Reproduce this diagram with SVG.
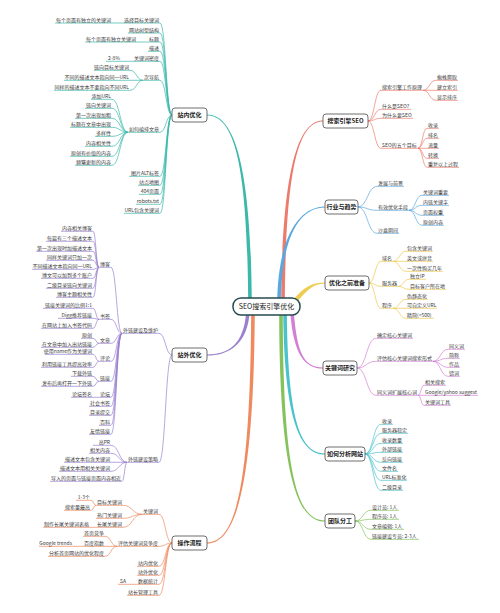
<svg xmlns="http://www.w3.org/2000/svg" width="500" height="613" viewBox="0 0 500 613">
<style>
text{font-family:"Noto Sans CJK SC","Liberation Sans",sans-serif}
.t{font-size:5px;fill:#3a3a3a}
.e{text-anchor:end}
.m{font-size:6px;font-weight:bold;fill:#222;text-anchor:middle}
.box{fill:#fff;stroke:#4a4a4a;stroke-width:0.8}
.k path{fill:none;stroke-width:0.7}
</style>
<rect width="500" height="613" fill="#fff"/>
<g id="connectors">
<g id="branches" stroke="none">
<path fill="#3bb8aa" d="M248.2,302 C247.2,170 236,115.6 207,115.6 L207,114.4 C236,114.4 250.8,170 251.8,302 Z"/>
<path fill="#9a80cf" d="M246.2,311 C244.2,345 228,354.4 207,354.4 L207,355.6 C228,355.6 247.8,345 249.8,311 Z"/>
<path fill="#ee8a5e" d="M251.2,311 C250.2,490 235,542.4 207,542.4 L207,543.6 C235,543.6 253.8,490 254.8,311 Z"/>
<path fill="#ec7b6d" d="M284.8,302 C285.8,170 298,121.6 323,121.6 L323,120.4 C298,120.4 282.2,170 281.2,302 Z"/>
<path fill="#5ba7df" d="M280.8,302 C281.8,235 300,207.6 325,207.6 L325,206.4 C300,206.4 278.2,235 277.2,302 Z"/>
<path fill="#efcd52" d="M297,302 C306,292 312,283.6 325,283.6 L325,282.4 C311,282.4 303,288 294,299 Z"/>
<path fill="#d27fd4" d="M293.8,311 C296.8,355 305,367.4 323,367.4 L323,368.6 C305,368.6 293.2,355 290.2,311 Z"/>
<path fill="#49c2cc" d="M286.8,311 C287.8,420 300,453.4 325,453.4 L325,454.6 C300,454.6 284.2,420 283.2,311 Z"/>
<path fill="#84c25c" d="M282.8,311 C282.8,485 300,520.4 325,520.4 L325,521.6 C300,521.6 279.2,485 279.2,311 Z"/>
</g>
<g class="k" stroke="#3bb8aa">
<path d="M55 23H123"/>
<path d="M123 23H160C166 23 166 115 172 115"/>
<path d="M128 33H160C166 33 166 115 172 115"/>
<path d="M85 42H148"/>
<path d="M148 42H160C166 42 166 115 172 115"/>
<path d="M148 51.3H160C166 51.3 166 115 172 115"/>
<path d="M106 61.3H133"/>
<path d="M133 61.3H160C166 61.3 166 115 172 115"/>
<path d="M94 70.3H130C136.5 70.3 136.5 80.3 143 80.3"/>
<path d="M64 80.3H143"/>
<path d="M54 90.3H130C136.5 90.3 136.5 80.3 143 80.3"/>
<path d="M143 80.3H160C166 80.3 166 115 172 115"/>
<path d="M91 99.3H112C120 99.3 120 132.3 128 132.3"/>
<path d="M85 108.3H112C120 108.3 120 132.3 128 132.3"/>
<path d="M75 118.3H112C120 118.3 120 132.3 128 132.3"/>
<path d="M70 127.3H112C120 127.3 120 132.3 128 132.3"/>
<path d="M95 136.3H112C120 136.3 120 132.3 128 132.3"/>
<path d="M85 146.3H112C120 146.3 120 132.3 128 132.3"/>
<path d="M70 156.3H112C120 156.3 120 132.3 128 132.3"/>
<path d="M75 165.3H112C120 165.3 120 132.3 128 132.3"/>
<path d="M128 132.3H160C166 132.3 166 115 172 115"/>
<path d="M129 176.3H160C166 176.3 166 115 172 115"/>
<path d="M138 185.3H160C166 185.3 166 115 172 115"/>
<path d="M139 194.3H160C166 194.3 166 115 172 115"/>
<path d="M136 204.3H160C166 204.3 166 115 172 115"/>
<path d="M124 213.3H160C166 213.3 166 115 172 115"/>
</g>
<g class="k" stroke="#9a80cf">
<path d="M122 333.3H159C165.5 333.3 165.5 355 172 355"/>
<path d="M127 462.3H159C165.5 462.3 165.5 355 172 355"/>
<path d="M99 267.3H111C116.5 267.3 116.5 333.3 122 333.3"/>
<path d="M99 319.3H111C116.5 319.3 116.5 333.3 122 333.3"/>
<path d="M99 343.3H111C116.5 343.3 116.5 333.3 122 333.3"/>
<path d="M99 361.3H111C116.5 361.3 116.5 333.3 122 333.3"/>
<path d="M99 381.3H111C116.5 381.3 116.5 333.3 122 333.3"/>
<path d="M99 397.3H111C116.5 397.3 116.5 333.3 122 333.3"/>
<path d="M89 406.3H111C116.5 406.3 116.5 333.3 122 333.3"/>
<path d="M89 415.3H111C116.5 415.3 116.5 333.3 122 333.3"/>
<path d="M99 425.3H111C116.5 425.3 116.5 333.3 122 333.3"/>
<path d="M89 434.3H111C116.5 434.3 116.5 333.3 122 333.3"/>
<path d="M61 231.3H93C96 231.3 96 267.3 99 267.3"/>
<path d="M46 241.3H93C96 241.3 96 267.3 99 267.3"/>
<path d="M36 251.3H93C96 251.3 96 267.3 99 267.3"/>
<path d="M46 260.3H93C96 260.3 96 267.3 99 267.3"/>
<path d="M32 269.3H93C96 269.3 96 267.3 99 267.3"/>
<path d="M41 278.3H93C96 278.3 96 267.3 99 267.3"/>
<path d="M46 288.3H93C96 288.3 96 267.3 99 267.3"/>
<path d="M56 297.3H93C96 297.3 96 267.3 99 267.3"/>
<path d="M43 308.3H93C96 308.3 96 319.3 99 319.3"/>
<path d="M58 318.3H93C96 318.3 96 319.3 99 319.3"/>
<path d="M41 328.3H93C96 328.3 96 319.3 99 319.3"/>
<path d="M81 338.3H93C96 338.3 96 343.3 99 343.3"/>
<path d="M41 347.3H93C96 347.3 96 343.3 99 343.3"/>
<path d="M45 354.3H93C96 354.3 96 361.3 99 361.3"/>
<path d="M41 367.3H93C96 367.3 96 361.3 99 361.3"/>
<path d="M71 376.3H93C96 376.3 96 381.3 99 381.3"/>
<path d="M41 386.3H93C96 386.3 96 381.3 99 381.3"/>
<path d="M71 397.3H99"/>
<path d="M93 445.3H111C119 445.3 119 462.3 127 462.3"/>
<path d="M89 453.3H111C119 453.3 119 462.3 127 462.3"/>
<path d="M64 462.3H127"/>
<path d="M59 471.3H111C119 471.3 119 462.3 127 462.3"/>
<path d="M50 481.3H122C124.5 481.3 124.5 462.3 127 462.3"/>
</g>
<g class="k" stroke="#ee8a5e">
<path d="M142 514.3H159C165.5 514.3 165.5 543 172 543"/>
<path d="M117 546.3H159C165.5 546.3 165.5 543 172 543"/>
<path d="M137 566.3H159C165.5 566.3 165.5 543 172 543"/>
<path d="M137 575.3H159C165.5 575.3 165.5 543 172 543"/>
<path d="M137 584.3H159C165.5 584.3 165.5 543 172 543"/>
<path d="M127 595.3H159C165.5 595.3 165.5 543 172 543"/>
<path d="M96 505.3H123C132.5 505.3 132.5 514.3 142 514.3"/>
<path d="M96 518.3H123C132.5 518.3 132.5 514.3 142 514.3"/>
<path d="M96 527.3H123C132.5 527.3 132.5 514.3 142 514.3"/>
<path d="M76 500.3H91C93.5 500.3 93.5 505.3 96 505.3"/>
<path d="M64 510.3H91C93.5 510.3 93.5 505.3 96 505.3"/>
<path d="M43 527.3H96"/>
<path d="M83 536.3H105C111 536.3 111 546.3 117 546.3"/>
<path d="M83 546.3H117"/>
<path d="M48 556.3H105C111 556.3 111 546.3 117 546.3"/>
<path d="M39 546.3H83"/>
<path d="M118 584.3H137"/>
</g>
<g class="k" stroke="#ec7b6d">
<path d="M423 90.3H381C374.5 90.3 374.5 121 368 121"/>
<path d="M411 109.3H381C374.5 109.3 374.5 121 368 121"/>
<path d="M413 118.3H381C374.5 118.3 374.5 121 368 121"/>
<path d="M418 148.3H381C374.5 148.3 374.5 121 368 121"/>
<path d="M458 80.3H436C429.5 80.3 429.5 90.3 423 90.3"/>
<path d="M458 90.3H423"/>
<path d="M458 100.3H436C429.5 100.3 429.5 90.3 423 90.3"/>
<path d="M439 128.3H427C422.5 128.3 422.5 148.3 418 148.3"/>
<path d="M439 138.3H427C422.5 138.3 422.5 148.3 418 148.3"/>
<path d="M439 148.3H418"/>
<path d="M439 158.3H427C422.5 158.3 422.5 148.3 418 148.3"/>
<path d="M459 167.3H427C422.5 167.3 422.5 148.3 418 148.3"/>
</g>
<g class="k" stroke="#5ba7df">
<path d="M404 186.3H377C367.5 186.3 367.5 207 358 207"/>
<path d="M409 210.3H377C367.5 210.3 367.5 207 358 207"/>
<path d="M399 233.3H377C367.5 233.3 367.5 207 358 207"/>
<path d="M449 195.3H422C415.5 195.3 415.5 210.3 409 210.3"/>
<path d="M449 205.3H422C415.5 205.3 415.5 210.3 409 210.3"/>
<path d="M444 215.3H422C415.5 215.3 415.5 210.3 409 210.3"/>
<path d="M444 225.3H422C415.5 225.3 415.5 210.3 409 210.3"/>
</g>
<g class="k" stroke="#ecc84a">
<path d="M393 261.3H381C375 261.3 375 283 369 283"/>
<path d="M398 286.3H381C375 286.3 375 283 369 283"/>
<path d="M393 308.3H381C375 308.3 375 283 369 283"/>
<path d="M433 251.3H406C399.5 251.3 399.5 261.3 393 261.3"/>
<path d="M433 261.3H393"/>
<path d="M443 271.3H406C399.5 271.3 399.5 261.3 393 261.3"/>
<path d="M426 279.3H409C403.5 279.3 403.5 286.3 398 286.3"/>
<path d="M446 289.3H409C403.5 289.3 403.5 286.3 398 286.3"/>
<path d="M428 299.3H406C399.5 299.3 399.5 308.3 393 308.3"/>
<path d="M437 308.3H393"/>
<path d="M434 318.3H406C399.5 318.3 399.5 308.3 393 308.3"/>
</g>
<g class="k" stroke="#d27fd4">
<path d="M413 338.3H376C366.5 338.3 366.5 368 357 368"/>
<path d="M433 361.3H376C366.5 361.3 366.5 368 357 368"/>
<path d="M418 395.3H376C366.5 395.3 366.5 368 357 368"/>
<path d="M465 349.3H448C440.5 349.3 440.5 361.3 433 361.3"/>
<path d="M460 358.3H448C440.5 358.3 440.5 361.3 433 361.3"/>
<path d="M460 367.3H448C440.5 367.3 440.5 361.3 433 361.3"/>
<path d="M460 376.3H448C440.5 376.3 440.5 361.3 433 361.3"/>
<path d="M446 385.3H424C421 385.3 421 395.3 418 395.3"/>
<path d="M478 395.3H418"/>
<path d="M451 405.3H424C421 405.3 421 395.3 418 395.3"/>
</g>
<g class="k" stroke="#49c2cc">
<path d="M393 424.3H381C373 424.3 373 454 365 454"/>
<path d="M408 433.3H381C373 433.3 373 454 365 454"/>
<path d="M403 443.3H381C373 443.3 373 454 365 454"/>
<path d="M403 452.3H381C373 452.3 373 454 365 454"/>
<path d="M403 462.3H381C373 462.3 373 454 365 454"/>
<path d="M398 471.3H381C373 471.3 373 454 365 454"/>
<path d="M407 480.3H381C373 480.3 373 454 365 454"/>
<path d="M403 490.3H381C373 490.3 373 454 365 454"/>
</g>
<g class="k" stroke="#84c25c">
<path d="M399 510.3H371C363 510.3 363 521 355 521"/>
<path d="M399 519.3H371C363 519.3 363 521 355 521"/>
<path d="M404 529.3H371C363 529.3 363 521 355 521"/>
<path d="M419 539.3H371C363 539.3 363 521 355 521"/>
</g>
</g>

<g id="center"><rect x="233" y="298" width="67" height="17" rx="8" fill="#fff" stroke="#264b4f" stroke-width="1.5"/><text x="266.5" y="308.9" font-size="7" fill="#222" text-anchor="middle">SEO搜索引擎优化</text></g>

<g id="n-zn"><rect class="box" x="172" y="108" width="35" height="14" rx="3"/><text class="m" x="189.5" y="117.1">站内优化</text></g>
<g id="n-zw"><rect class="box" x="172" y="348" width="35" height="14" rx="3"/><text class="m" x="189.5" y="357.1">站外优化</text></g>
<g id="n-cz"><rect class="box" x="172" y="536" width="35" height="14" rx="3"/><text class="m" x="189.5" y="545.1">操作流程</text></g>
<g id="n-ss"><rect class="box" x="323" y="114" width="45" height="14" rx="3"/><text class="m" x="345.5" y="123.1">搜索引擎SEO</text></g>
<g id="n-hy"><rect class="box" x="325" y="200" width="33" height="14" rx="3"/><text class="m" x="341.5" y="209.1">行业与趋势</text></g>
<g id="n-yh"><rect class="box" x="325" y="276" width="44" height="14" rx="3"/><text class="m" x="347" y="285.1">优化之前准备</text></g>
<g id="n-gj"><rect class="box" x="323" y="361" width="34" height="14" rx="3"/><text class="m" x="340" y="370.1">关键词研究</text></g>
<g id="n-fx"><rect class="box" x="325" y="447" width="40" height="14" rx="3"/><text class="m" x="345" y="456.1">如何分析网站</text></g>
<g id="n-td"><rect class="box" x="325" y="514" width="30" height="14" rx="3"/><text class="m" x="340" y="523.1">团队分工</text></g>

<g id="leaves-zn" class="t e">
<g id="a1"><text x="111" y="21.5">每个页面有独立的关键词</text></g>
<g id="a2"><text x="159" y="21.5">选择目标关键词</text></g>
<g id="a3"><text x="159" y="31.5">网站树型结构</text></g>
<g id="a4"><text x="136" y="40.5">每个页面有独立关键词</text></g>
<g id="a5"><text x="159" y="40.5">标题</text></g>
<g id="a6"><text x="159" y="49.8">描述</text></g>
<g id="a7"><text x="120" y="59.8">2-8%</text></g>
<g id="a8"><text x="159" y="59.8">关键词密度</text></g>
<g id="a9"><text x="129" y="68.8">链向目标关键词</text></g>
<g id="a10"><text x="129" y="78.8">不同的描述文本指向同一URL</text></g>
<g id="a11"><text x="159" y="78.8">次导航</text></g>
<g id="a12"><text x="129" y="88.8">同样的描述文本不要指向不同URL</text></g>
<g id="a13"><text x="111" y="97.8">添加URL</text></g>
<g id="a14"><text x="111" y="106.8">链向关键词</text></g>
<g id="a15"><text x="111" y="116.8">第一次出现加粗</text></g>
<g id="a16"><text x="111" y="125.8">标题在文章中出现</text></g>
<g id="a17"><text x="159" y="130.8">如何编排文章</text></g>
<g id="a18"><text x="111" y="134.8">多样性</text></g>
<g id="a19"><text x="111" y="144.8">内容相关性</text></g>
<g id="a20"><text x="111" y="154.8">原创有价值的内容</text></g>
<g id="a21"><text x="111" y="163.8">频繁更新的内容</text></g>
<g id="a22"><text x="159" y="174.8">图片ALT标签</text></g>
<g id="a23"><text x="159" y="183.8">站点地图</text></g>
<g id="a24"><text x="159" y="192.8">404页面</text></g>
<g id="a25"><text x="159" y="202.8">robots.txt</text></g>
<g id="a26"><text x="159" y="211.8">URL包含关键词</text></g>
</g>

<g id="leaves-zw" class="t e">
<g id="b1"><text x="158" y="331.8">外链建设及维护</text></g>
<g id="b2"><text x="158" y="460.8">外链建设策略</text></g>
<g id="b3"><text x="110" y="265.8">博客</text></g>
<g id="b4"><text x="110" y="317.8">书签</text></g>
<g id="b5"><text x="110" y="341.8">文章</text></g>
<g id="b6"><text x="110" y="359.8">评论</text></g>
<g id="b7"><text x="110" y="379.8">链接</text></g>
<g id="b8"><text x="110" y="395.8">论坛</text></g>
<g id="b9"><text x="110" y="404.8">社会书签</text></g>
<g id="b10"><text x="110" y="413.8">目录提交</text></g>
<g id="b11"><text x="110" y="423.8">百科</text></g>
<g id="b12"><text x="110" y="432.8">友情链接</text></g>
<g id="b13"><text x="92" y="229.8">内容相关博客</text></g>
<g id="b14"><text x="92" y="239.8">每篇有三个描述文本</text></g>
<g id="b15"><text x="92" y="249.8">第一次出现时加描述文本</text></g>
<g id="b16"><text x="92" y="258.8">同样关键词只加一次</text></g>
<g id="b17"><text x="92" y="267.8">不同描述文本指向同一URL</text></g>
<g id="b18"><text x="92" y="276.8">博文可以加到多个账户</text></g>
<g id="b19"><text x="92" y="286.8">二级目录链向关键词</text></g>
<g id="b20"><text x="92" y="295.8">博客主题相关性</text></g>
<g id="b21"><text x="92" y="306.8">链接关键词的比例1:1</text></g>
<g id="b22"><text x="92" y="316.8">Digg推荐链接</text></g>
<g id="b23"><text x="92" y="326.8">在网站上加入书签代码</text></g>
<g id="b24"><text x="92" y="336.8">原创</text></g>
<g id="b25"><text x="92" y="345.8">在文章中加入出站链接</text></g>
<g id="b26"><text x="92" y="352.8">使用name作为关键词</text></g>
<g id="b27"><text x="92" y="365.8">利用链接工具提高效率</text></g>
<g id="b28"><text x="92" y="374.8">下载外链</text></g>
<g id="b29"><text x="92" y="384.8">发布后再打开一下外链</text></g>
<g id="b30"><text x="92" y="395.8">论坛签名</text></g>
<g id="b31"><text x="110" y="443.8">高PR</text></g>
<g id="b32"><text x="110" y="451.8">相关内容</text></g>
<g id="b33"><text x="110" y="460.8">描述文本包含关键词</text></g>
<g id="b34"><text x="110" y="469.8">描述文本用相关关键词</text></g>
<g id="b35"><text x="121" y="479.8">导入的页面与链接页面内容相近</text></g>
</g>

<g id="leaves-cz" class="t e">
<g id="c1"><text x="158" y="512.8">关键词</text></g>
<g id="c2"><text x="158" y="544.8">评估关键词竞争度</text></g>
<g id="c3"><text x="158" y="564.8">站内优化</text></g>
<g id="c4"><text x="158" y="573.8">站外优化</text></g>
<g id="c5"><text x="158" y="582.8">数据统计</text></g>
<g id="c6"><text x="158" y="593.8">站长管理工具</text></g>
<g id="c7"><text x="122" y="503.8">目标关键词</text></g>
<g id="c8"><text x="122" y="516.8">热门关键词</text></g>
<g id="c9"><text x="122" y="525.8">长尾关键词</text></g>
<g id="c10"><text x="90" y="498.8">1-3个</text></g>
<g id="c11"><text x="90" y="508.8">搜索量最高</text></g>
<g id="c12"><text x="89" y="525.8">制作长尾关键词表格</text></g>
<g id="c13"><text x="104" y="534.8">首页竞争</text></g>
<g id="c14"><text x="104" y="544.8">百度指数</text></g>
<g id="c15"><text x="104" y="554.8">分析首页网站的优化程度</text></g>
<g id="c16"><text x="72" y="544.8">Google trends</text></g>
<g id="c17"><text x="126" y="582.8">SA</text></g>
</g>

<g id="leaves-ss" class="t">
<g id="d1"><text x="382" y="88.8">搜索引擎工作原理</text></g>
<g id="d2"><text x="382" y="107.8">什么是SEO?</text></g>
<g id="d3"><text x="382" y="116.8">为什么要SEO</text></g>
<g id="d4"><text x="382" y="146.8">SEO的五个目标</text></g>
<g id="d5"><text x="437" y="78.8">蜘蛛爬取</text></g>
<g id="d6"><text x="437" y="88.8">建立索引</text></g>
<g id="d7"><text x="437" y="98.8">显示排序</text></g>
<g id="d8"><text x="428" y="126.8">收录</text></g>
<g id="d9"><text x="428" y="136.8">排名</text></g>
<g id="d10"><text x="428" y="146.8">流量</text></g>
<g id="d11"><text x="428" y="156.8">转换</text></g>
<g id="d12"><text x="428" y="165.8">重复以上过程</text></g>
</g>

<g id="leaves-hy" class="t">
<g id="e1"><text x="378" y="184.8">发展与前景</text></g>
<g id="e2"><text x="378" y="208.8">有效优化手段</text></g>
<g id="e3"><text x="378" y="231.8">沙盒期间</text></g>
<g id="e4"><text x="423" y="193.8">关键词重要</text></g>
<g id="e5"><text x="423" y="203.8">内链关键字</text></g>
<g id="e6"><text x="423" y="213.8">页面权重</text></g>
<g id="e7"><text x="423" y="223.8">原创内容</text></g>
</g>

<g id="leaves-yh" class="t">
<g id="f1"><text x="382" y="259.8">域名</text></g>
<g id="f2"><text x="382" y="284.8">服务器</text></g>
<g id="f3"><text x="382" y="306.8">程序</text></g>
<g id="f4"><text x="407" y="249.8">包含关键词</text></g>
<g id="f5"><text x="407" y="259.8">英文或拼音</text></g>
<g id="f6"><text x="407" y="269.8">一次性购买几年</text></g>
<g id="f7"><text x="410" y="277.8">独立IP</text></g>
<g id="f8"><text x="410" y="287.8">目标客户所在地</text></g>
<g id="f9"><text x="407" y="297.8">伪静态化</text></g>
<g id="f10"><text x="407" y="306.8">可自定义URL</text></g>
<g id="f11"><text x="407" y="316.8">精简(&lt;500)</text></g>
</g>

<g id="leaves-gj" class="t">
<g id="g1"><text x="377" y="336.8">确定核心关键词</text></g>
<g id="g2"><text x="377" y="359.8">评估核心关键词搜索形式</text></g>
<g id="g3"><text x="377" y="393.8">同义词扩展核心词</text></g>
<g id="g4"><text x="449" y="347.8">同义词</text></g>
<g id="g5"><text x="449" y="356.8">简称</text></g>
<g id="g6"><text x="449" y="365.8">作品</text></g>
<g id="g7"><text x="449" y="374.8">错词</text></g>
<g id="g8"><text x="425" y="383.8">相关搜索</text></g>
<g id="g9"><text x="425" y="393.8">Google/yahoo suggest</text></g>
<g id="g10"><text x="425" y="403.8">关键词工具</text></g>
</g>

<g id="leaves-fx" class="t">
<g id="h1"><text x="382" y="422.8">收录</text></g>
<g id="h2"><text x="382" y="431.8">服务器稳定</text></g>
<g id="h3"><text x="382" y="441.8">收录数量</text></g>
<g id="h4"><text x="382" y="450.8">外部链接</text></g>
<g id="h5"><text x="382" y="460.8">反向链接</text></g>
<g id="h6"><text x="382" y="469.8">文件名</text></g>
<g id="h7"><text x="382" y="478.8">URL标准化</text></g>
<g id="h8"><text x="382" y="488.8">二级目录</text></g>
</g>

<g id="leaves-td" class="t">
<g id="i1"><text x="372" y="508.8">设计员: 1人</text></g>
<g id="i2"><text x="372" y="517.8">程序员: 1人</text></g>
<g id="i3"><text x="372" y="527.8">文章编辑: 1人</text></g>
<g id="i4"><text x="372" y="537.8">链接建设专员: 2-3人</text></g>
</g>
</svg>
